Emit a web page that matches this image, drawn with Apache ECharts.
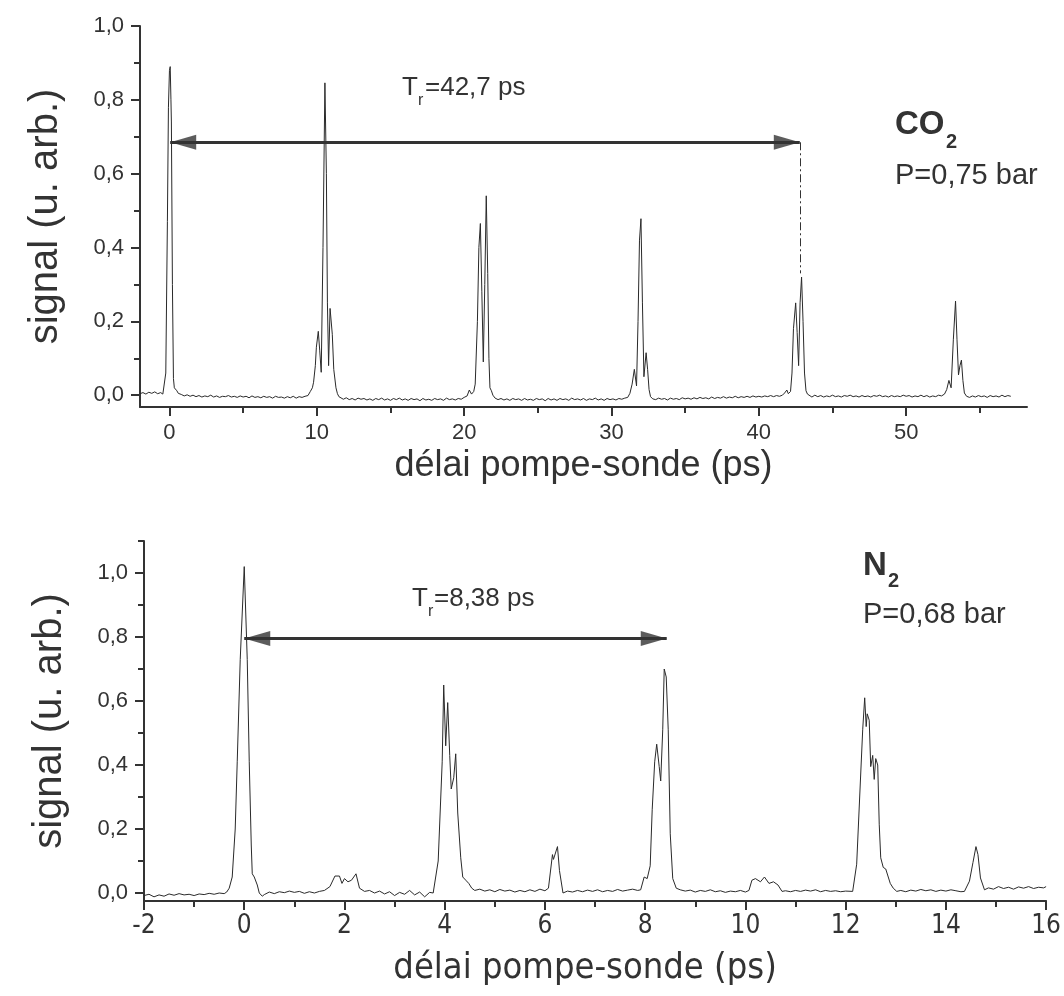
<!DOCTYPE html>
<html lang="fr">
<head>
<meta charset="UTF-8">
<title>Signal pompe-sonde CO2 / N2</title>
<style>
html, body { margin: 0; padding: 0; background: #fff; }
#main { width: 1064px; height: 996px; }
</style>
</head>
<body>
<div id="main"></div>

<script src="https://cdn.jsdelivr.net/npm/echarts@6/dist/echarts.min.js"></script>
<script>
// CO2, P=0,75 bar : [délai (ps), signal]
var co2Signal = [
  [-2.0,0.004],[-1.8,0.007],[-1.6,0.003],[-1.4,0.008],[-1.2,0.005],[-1.0,0.009],[-0.8,0.004],[-0.6,0.007],
  [-0.45,0.003],[-0.34,0.008],[-0.25,0.06],[-0.14,0.47],[-0.07,0.78],[0.0,0.88],[0.05,0.89],[0.1,0.8],
  [0.13,0.74],[0.2,0.3],[0.27,0.045],[0.33,0.02],[0.4,0.025],[0.5,0.012],[0.6,0.005],[0.8,0.002],
  [1.0,-0.002],[1.2,0.001],[1.4,-0.003],[1.6,0.0],[1.8,-0.004],[2.0,-0.001],[2.2,-0.005],[2.4,-0.002],
  [2.6,-0.004],[2.8,0.0],[3.0,-0.005],[3.2,-0.002],[3.4,-0.006],[3.6,-0.003],[3.8,-0.004],[4.0,-0.001],
  [4.2,-0.005],[4.4,-0.003],[4.6,-0.006],[4.8,-0.002],[5.0,-0.005],[5.2,-0.003],[5.4,-0.007],[5.6,-0.002],
  [5.8,-0.006],[6.0,-0.004],[6.2,-0.007],[6.4,-0.003],[6.6,-0.006],[6.8,-0.004],[7.0,-0.008],[7.2,-0.003],
  [7.4,-0.006],[7.6,-0.005],[7.8,-0.008],[8.0,-0.004],[8.2,-0.007],[8.4,-0.003],[8.6,-0.008],[8.8,-0.004],
  [9.0,-0.006],[9.2,-0.003],[9.4,-0.001],[9.56,0.01],[9.7,0.02],[9.78,0.035],[9.9,0.08],[9.97,0.13],
  [10.1,0.173],[10.2,0.12],[10.3,0.062],[10.42,0.4],[10.55,0.846],[10.65,0.6],[10.72,0.25],[10.8,0.08],
  [10.9,0.235],[11.05,0.165],[11.15,0.07],[11.3,0.02],[11.4,0.004],[11.5,-0.004],
  [11.6,-0.008],[11.8,-0.011],[12.0,-0.007],[12.2,-0.012],[12.4,-0.009],[12.6,-0.013],[12.8,-0.008],[13.0,-0.011],
  [13.2,-0.009],[13.4,-0.013],[13.6,-0.01],[13.8,-0.014],[14.0,-0.009],[14.2,-0.012],[14.4,-0.008],[14.6,-0.013],
  [14.8,-0.01],[15.0,-0.014],[15.2,-0.009],[15.4,-0.012],[15.6,-0.008],[15.8,-0.013],[16.0,-0.01],[16.2,-0.014],
  [16.4,-0.009],[16.6,-0.012],[16.8,-0.01],[17.0,-0.015],[17.2,-0.009],[17.4,-0.013],[17.6,-0.011],[17.8,-0.014],
  [18.0,-0.009],[18.2,-0.012],[18.4,-0.01],[18.6,-0.014],[18.8,-0.008],[19.0,-0.012],[19.2,-0.01],[19.4,-0.013],
  [19.6,-0.009],[19.8,-0.011],[20.0,-0.006],[20.2,-0.002],[20.35,0.014],[20.5,0.003],[20.65,0.01],[20.75,0.03],
  [20.9,0.2],[21.0,0.4],[21.1,0.465],[21.2,0.28],[21.3,0.09],[21.4,0.3],[21.5,0.54],[21.6,0.33],
  [21.68,0.1],[21.75,0.02],[21.85,0.012],[21.95,0.0],
  [22.1,-0.008],[22.3,-0.012],[22.5,-0.009],[22.7,-0.013],[22.9,-0.01],[23.1,-0.014],[23.3,-0.009],[23.5,-0.012],
  [23.7,-0.01],[23.9,-0.014],[24.1,-0.009],[24.3,-0.013],[24.5,-0.011],[24.7,-0.014],[24.9,-0.009],[25.1,-0.012],
  [25.3,-0.01],[25.5,-0.015],[25.7,-0.009],[25.9,-0.013],[26.1,-0.01],[26.3,-0.014],[26.5,-0.009],[26.7,-0.012],
  [26.9,-0.01],[27.1,-0.014],[27.3,-0.008],[27.5,-0.012],[27.7,-0.01],[27.9,-0.013],[28.1,-0.009],[28.3,-0.014],
  [28.5,-0.01],[28.7,-0.012],[28.9,-0.008],[29.1,-0.013],[29.3,-0.01],[29.5,-0.014],[29.7,-0.009],[29.9,-0.012],
  [30.1,-0.01],[30.3,-0.013],[30.5,-0.009],[30.7,-0.011],[30.9,-0.008],[31.1,-0.006],[31.25,0.005],[31.4,0.03],
  [31.55,0.07],[31.7,0.025],[31.8,0.2],[31.9,0.42],[32.0,0.478],[32.1,0.25],[32.2,0.05],[32.35,0.115],
  [32.45,0.07],[32.55,0.015],[32.65,-0.004],
  [32.8,-0.01],[33.0,-0.012],[33.2,-0.008],[33.4,-0.011],[33.6,-0.009],[33.8,-0.013],[34.0,-0.008],[34.2,-0.011],
  [34.4,-0.009],[34.6,-0.012],[34.8,-0.007],[35.0,-0.01],[35.2,-0.008],[35.4,-0.011],[35.6,-0.007],[35.8,-0.01],
  [36.0,-0.006],[36.2,-0.009],[36.4,-0.007],[36.6,-0.01],[36.8,-0.005],[37.0,-0.009],[37.2,-0.006],[37.4,-0.008],
  [37.6,-0.004],[37.8,-0.008],[38.0,-0.005],[38.2,-0.007],[38.4,-0.003],[38.6,-0.007],[38.8,-0.004],[39.0,-0.006],
  [39.2,-0.003],[39.4,-0.006],[39.6,-0.002],[39.8,-0.005],[40.0,-0.003],[40.2,-0.005],[40.4,-0.002],[40.6,-0.004],
  [40.8,-0.001],[41.0,-0.004],[41.2,-0.001],[41.4,-0.003],[41.6,0.0],[41.75,0.006],[41.9,0.014],[42.0,0.004],
  [42.15,0.01],[42.25,0.06],[42.35,0.18],[42.5,0.25],[42.6,0.17],[42.7,0.08],[42.8,0.25],[42.9,0.32],
  [43.0,0.2],[43.1,0.06],[43.2,0.012],[43.3,0.003],
  [43.4,-0.002],[43.6,-0.005],[43.8,0.0],[44.0,-0.004],[44.2,-0.001],[44.4,-0.005],[44.6,-0.002],[44.8,-0.004],
  [45.0,0.0],[45.2,-0.004],[45.4,-0.002],[45.6,-0.005],[45.8,-0.001],[46.0,-0.003],[46.2,0.0],[46.4,-0.004],
  [46.6,-0.002],[46.8,-0.005],[47.0,-0.001],[47.2,-0.004],[47.4,-0.002],[47.6,-0.005],[47.8,-0.001],[48.0,-0.003],
  [48.2,0.0],[48.4,-0.004],[48.6,-0.002],[48.8,-0.005],[49.0,-0.001],[49.2,-0.004],[49.4,-0.002],[49.6,-0.004],
  [49.8,0.0],[50.0,-0.003],[50.2,-0.001],[50.4,-0.005],[50.6,-0.002],[50.8,-0.004],[51.0,0.0],[51.2,-0.004],
  [51.4,-0.001],[51.6,-0.005],[51.8,-0.002],[52.0,-0.004],[52.2,0.0],[52.4,-0.002],[52.6,0.003],[52.75,0.015],
  [52.9,0.04],[53.05,0.02],[53.2,0.15],[53.35,0.255],[53.45,0.15],[53.55,0.055],[53.65,0.08],[53.75,0.095],
  [53.85,0.04],[53.95,0.006],[54.1,-0.003],
  [54.3,-0.006],[54.5,-0.002],[54.7,-0.005],[54.9,-0.001],[55.1,-0.004],[55.3,-0.002],[55.5,-0.006],[55.7,-0.001],
  [55.9,-0.004],[56.1,-0.002],[56.3,-0.005],[56.5,0.0],[56.7,-0.004],[56.9,-0.001],[57.1,-0.003]
];

// N2, P=0,68 bar : [délai (ps), signal]
var n2Signal = [
  [-2.0,-0.008],[-1.9,-0.004],[-1.8,-0.012],[-1.7,-0.006],[-1.6,-0.01],[-1.5,-0.003],[-1.4,-0.007],[-1.3,-0.002],
  [-1.2,-0.006],[-1.1,-0.004],[-1.0,-0.008],[-0.9,-0.003],[-0.8,-0.005],[-0.7,-0.001],[-0.6,-0.004],[-0.5,0.0],
  [-0.4,-0.002],[-0.35,0.003],[-0.3,0.015],[-0.24,0.05],[-0.18,0.2],[-0.14,0.41],[-0.08,0.73],[0.0,1.02],
  [0.06,0.73],[0.1,0.41],[0.14,0.15],[0.16,0.06],[0.2,0.05],[0.26,0.025],[0.3,0.0],[0.36,-0.01],
  [0.4,-0.005],[0.5,0.003],[0.6,-0.002],[0.7,0.004],[0.8,0.001],[0.9,0.006],[1.0,0.002],[1.1,0.005],
  [1.2,-0.001],[1.3,0.004],[1.4,0.0],[1.5,0.005],[1.6,0.008],[1.71,0.02],[1.81,0.053],[1.9,0.053],
  [1.95,0.03],[2.0,0.045],[2.07,0.035],[2.14,0.04],[2.23,0.06],[2.3,0.015],[2.4,0.005],[2.5,0.008],
  [2.6,0.0],[2.7,0.006],[2.8,-0.003],[2.9,0.004],[3.0,-0.008],[3.1,0.002],[3.2,-0.004],[3.3,0.008],
  [3.4,-0.006],[3.5,0.003],[3.6,-0.012],[3.7,0.002],[3.77,0.0],[3.87,0.1],[3.95,0.41],[3.98,0.65],
  [4.02,0.46],[4.06,0.595],[4.1,0.43],[4.13,0.325],[4.18,0.36],[4.22,0.435],[4.26,0.25],[4.32,0.11],
  [4.36,0.05],[4.42,0.04],[4.48,0.03],[4.54,0.015],[4.6,0.008],[4.7,0.012],[4.8,0.006],[4.9,0.01],
  [5.0,0.004],[5.1,0.011],[5.2,0.006],[5.3,0.009],[5.4,0.003],[5.5,0.008],[5.6,0.004],[5.7,0.01],
  [5.8,0.005],[5.9,0.012],[6.0,0.007],[6.07,0.015],[6.15,0.12],[6.17,0.105],[6.25,0.145],[6.29,0.07],
  [6.31,0.065],[6.36,0.0],[6.45,0.006],[6.55,0.003],[6.65,0.008],[6.75,0.004],[6.85,0.009],[6.95,0.005],
  [7.05,0.01],[7.15,0.004],[7.25,0.008],[7.35,0.005],[7.45,0.011],[7.55,0.006],[7.65,0.009],[7.75,0.012],
  [7.85,0.008],[7.91,0.01],[7.98,0.05],[8.04,0.045],[8.1,0.085],[8.14,0.26],[8.19,0.41],[8.23,0.465],
  [8.28,0.395],[8.31,0.35],[8.35,0.51],[8.38,0.7],[8.42,0.675],[8.46,0.51],[8.5,0.185],[8.55,0.045],
  [8.62,0.015],[8.7,0.01],[8.8,0.006],[8.9,0.009],[9.0,0.003],[9.1,0.008],[9.2,0.005],[9.3,0.01],
  [9.4,0.004],[9.5,0.007],[9.6,0.002],[9.7,0.006],[9.8,0.004],[9.9,0.008],[10.0,0.003],[10.07,0.008],
  [10.13,0.04],[10.2,0.045],[10.3,0.035],[10.38,0.05],[10.47,0.03],[10.56,0.035],[10.65,0.025],[10.73,0.005],
  [10.8,0.007],[10.9,0.004],[11.0,0.008],[11.1,0.005],[11.2,0.009],[11.3,0.006],[11.4,0.01],[11.5,0.004],
  [11.6,0.008],[11.7,0.005],[11.8,0.007],[11.9,0.004],[12.0,0.006],[12.14,0.005],[12.22,0.09],[12.28,0.3],
  [12.34,0.51],[12.38,0.61],[12.41,0.52],[12.43,0.56],[12.47,0.54],[12.5,0.395],[12.54,0.43],[12.57,0.355],
  [12.6,0.42],[12.64,0.4],[12.67,0.215],[12.7,0.11],[12.75,0.08],[12.8,0.075],[12.89,0.03],[12.95,0.015],
  [13.02,0.005],[13.1,0.008],[13.2,0.004],[13.3,0.009],[13.4,0.006],[13.5,0.011],[13.6,0.007],[13.7,0.01],
  [13.8,0.005],[13.9,0.009],[14.0,0.006],[14.1,0.01],[14.2,0.007],[14.3,0.004],[14.37,0.005],[14.47,0.037],
  [14.54,0.095],[14.6,0.145],[14.64,0.12],[14.69,0.047],[14.77,0.01],[14.85,0.016],[14.95,0.012],[15.05,0.02],
  [15.15,0.014],[15.25,0.018],[15.35,0.012],[15.45,0.019],[15.55,0.015],[15.65,0.02],[15.75,0.014],[15.85,0.018],
  [15.95,0.016],[16.0,0.02]
];

// ticks
var co2TicksX = [0, 10, 20, 30, 40, 50];
var co2MinorX = [5, 15, 25, 35, 45, 55];
var co2TicksY = [0, 0.2, 0.4, 0.6, 0.8, 1.0];
var co2MinorY = [0.1, 0.3, 0.5, 0.7, 0.9];
var n2TicksX = [-2, 0, 2, 4, 6, 8, 10, 12, 14, 16];
var n2MinorX = [-1, 1, 3, 5, 7, 9, 11, 13, 15];
var n2TicksY = [0, 0.2, 0.4, 0.6, 0.8, 1.0];
var n2MinorY = [0.1, 0.3, 0.5, 0.7, 0.9, 1.1];

// période de rotation : [début, fin, hauteur de la flèche]
var co2Arrow = [0.05, 42.78, 0.685];
var co2Drop = [42.78, 0.685, 0.33];
var n2Arrow = [0.0, 8.43, 0.795];

var FONT = "'Liberation Sans', Arial, sans-serif";
var NARROW = "'Liberation Sans Narrow', 'DejaVu Sans Condensed', 'Liberation Sans', sans-serif";
var INK = '#333';

function comma(v) {
    return v.toFixed(1).replace('.', ',');
}

function mainX(grid, min, max, ticks, name, gap, labelFont, labelSize, margin, pad) {
    return {
        gridIndex: grid, type: 'value', min: min, max: max, position: 'bottom',
        axisLine: { onZero: false, lineStyle: { color: INK, width: 2 } },
        axisTick: { customValues: ticks, length: 9, lineStyle: { color: INK, width: 2 } },
        axisLabel: { customValues: ticks, margin: margin, fontSize: labelSize, color: INK, fontFamily: labelFont },
        splitLine: { show: false },
        name: name, nameLocation: 'middle', nameGap: gap,
        nameTextStyle: { fontSize: 36, color: INK, fontFamily: labelFont, padding: pad }
    };
}

function minorX(grid, min, max, ticks) {
    return {
        gridIndex: grid, type: 'value', min: min, max: max, position: 'bottom',
        axisLine: { show: false, onZero: false },
        axisTick: { customValues: ticks, length: 6, lineStyle: { color: INK, width: 2 } },
        axisLabel: { show: false },
        splitLine: { show: false }
    };
}

function mainY(grid, min, max, ticks) {
    return {
        gridIndex: grid, type: 'value', min: min, max: max, position: 'left',
        axisLine: { onZero: false, lineStyle: { color: INK, width: 2 } },
        axisTick: { customValues: ticks, length: 9, lineStyle: { color: INK, width: 2 } },
        axisLabel: { customValues: ticks, margin: 16, fontSize: 22, color: INK, fontFamily: FONT, formatter: comma },
        splitLine: { show: false },
        name: 'signal (u. arb.)', nameLocation: 'middle', nameGap: 74,
        nameTextStyle: { fontSize: 40, color: INK, fontFamily: FONT }
    };
}

function minorY(grid, min, max, ticks) {
    return {
        gridIndex: grid, type: 'value', min: min, max: max, position: 'left',
        axisLine: { show: false, onZero: false },
        axisTick: { customValues: ticks, length: 6, lineStyle: { color: INK, width: 2 } },
        axisLabel: { show: false },
        splitLine: { show: false }
    };
}

// flèche double : trait + deux pointes triangulaires
function arrowLine(a) {
    return [{ coord: [a[0], a[2]] }, { coord: [a[1], a[2]] }];
}

function arrowHeads(a, xIdx, yIdx) {
    return {
        type: 'scatter',
        xAxisIndex: xIdx, yAxisIndex: yIdx,
        silent: true,
        z: 5,
        symbol: 'triangle',
        symbolSize: [15, 26],
        itemStyle: { color: INK },
        data: [
            { value: [a[0], a[2]], symbolRotate: 90, symbolOffset: [13, 0] },
            { value: [a[1], a[2]], symbolRotate: -90, symbolOffset: [-13, 0] }
        ]
    };
}

function txt(x, y, text, size, bold) {
    return {
        type: 'text', x: x, y: y, silent: true,
        style: {
            text: text, fill: INK, align: 'left', verticalAlign: 'middle',
            font: (bold ? 'bold ' : '') + size + "px 'Liberation Sans', Arial, sans-serif"
        }
    };
}

var myChart = echarts.init(document.getElementById('main'));

var lineMark = {
    silent: true,
    animation: false,
    symbol: ['none', 'none'],
    label: { show: false },
    lineStyle: { color: INK, width: 3, type: 'solid' }
};

option = {
    animation: false,
    backgroundColor: '#fff',
    grid: [
        { left: 140, top: 26, width: 887, height: 381 },
        { left: 144, top: 541, width: 904, height: 360 }
    ],
    xAxis: [
        mainX(0, -2, 58.2, co2TicksX, 'délai pompe-sonde (ps)', 41, FONT, 22, 15, 0),
        minorX(0, -2, 58.2, co2MinorX),
        mainX(1, -2, 16, n2TicksX, 'délai pompe-sonde (ps)', 50, NARROW, 26, 12, [0, 20, 0, 0]),
        minorX(1, -2, 16, n2MinorX)
    ],
    yAxis: [
        mainY(0, -0.032, 1.0, co2TicksY),
        minorY(0, -0.032, 1.0, co2MinorY),
        mainY(1, -0.025, 1.1, n2TicksY),
        minorY(1, -0.025, 1.1, n2MinorY)
    ],
    series: [
        {
            name: 'CO2',
            type: 'line',
            xAxisIndex: 0, yAxisIndex: 0,
            data: co2Signal,
            symbol: 'none',
            lineStyle: { color: '#2a2a2a', width: 1 },
            markLine: Object.assign({}, lineMark, {
                data: [
                    arrowLine(co2Arrow),
                    [
                        { coord: [co2Drop[0], co2Drop[1]], lineStyle: { type: [8, 3, 2, 3], width: 1, color: INK } },
                        { coord: [co2Drop[0], co2Drop[2]], lineStyle: { type: [8, 3, 2, 3], width: 1, color: INK } }
                    ]
                ]
            })
        },
        arrowHeads(co2Arrow, 0, 0),
        {
            name: 'N2',
            type: 'line',
            xAxisIndex: 2, yAxisIndex: 2,
            data: n2Signal,
            symbol: 'none',
            lineStyle: { color: '#2a2a2a', width: 1 },
            markLine: Object.assign({}, lineMark, {
                data: [arrowLine(n2Arrow)]
            })
        },
        arrowHeads(n2Arrow, 2, 2)
    ],
    graphic: [
        txt(402, 88, 'T', 26),
        txt(418, 101, 'r', 16),
        txt(425, 88, '=42,7 ps', 26),
        txt(895, 125, 'CO', 33, true),
        txt(946, 142, '2', 20, true),
        txt(895, 176, 'P=0,75 bar', 29),
        txt(412, 599, 'T', 26),
        txt(428, 612, 'r', 16),
        txt(434, 599, '=8,38 ps', 26),
        txt(863, 566, 'N', 33, true),
        txt(888, 581, '2', 20, true),
        txt(863, 615, 'P=0,68 bar', 29)
    ]
};

myChart.setOption(option);
</script>
</body>
</html>
